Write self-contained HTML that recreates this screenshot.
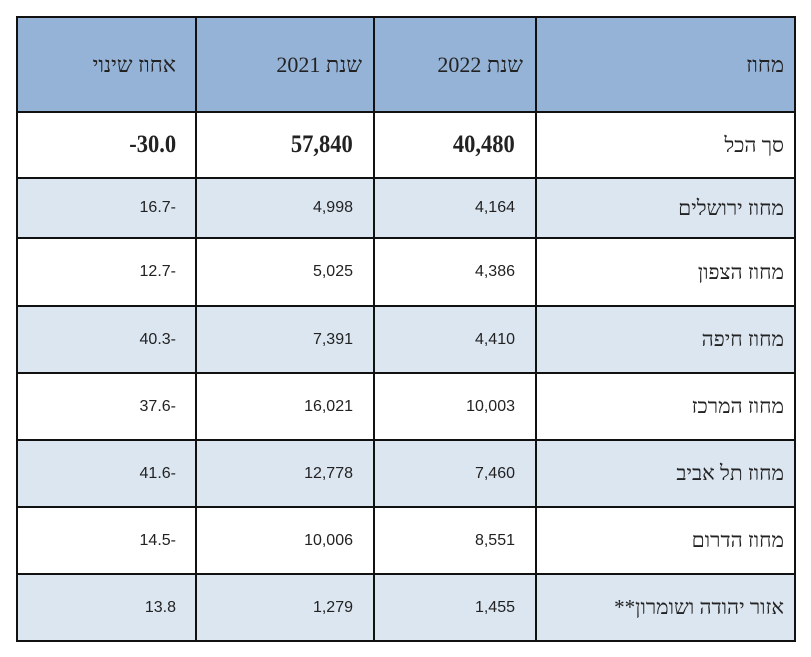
<!DOCTYPE html>
<html><head><meta charset="utf-8">
<style>
body{margin:0;width:811px;height:657px;background:#fff;position:relative;overflow:hidden}
.c{position:absolute;box-sizing:border-box;display:flex;align-items:center;justify-content:flex-end;white-space:nowrap}
.ln{position:absolute;background:#111}
.hd{font-family:"Liberation Serif",serif;font-size:22px;color:#222}
.tot{font-family:"Liberation Serif",serif;font-size:25px;font-weight:bold;color:#222;transform:scaleX(0.9);transform-origin:right center}
.num{font-family:"Liberation Sans",sans-serif;font-size:16px;color:#222}
.heb{font-family:"Liberation Serif","Noto Serif CJK SC",serif;font-size:21px;color:#222;direction:rtl}
</style></head><body>
<div id="tbl"></div>
<script>
const districts=["סך הכל","מחוז ירושלים","מחוז הצפון","מחוז חיפה","מחוז המרכז","מחוז תל אביב","מחוז הדרום","אזור יהודה ושומרון**"];
const y2022=["40,480","4,164","4,386","4,410","10,003","7,460","8,551","1,455"];
const y2021=["57,840","4,998","5,025","7,391","16,021","12,778","10,006","1,279"];
const pct=["-30.0","16.7-","12.7-","40.3-","37.6-","41.6-","14.5-","13.8"];
const headers=["מחוז","שנת 2022","שנת 2021","אחוז שינוי"];
const colX=[536,374,196,17]; const colR=[795,536,374,196];
const rowY=[17,112,178,238,306,373,440,507,574,641];
const pads=[[11,13,12,20],[11,21,21,20]];
const t=document.getElementById('tbl');
function cell(x,y,w,h,bg,txt,cls,pad,name){
  const d=document.createElement('div');
  d.className='c';
  d.style.cssText=`left:${x}px;top:${y}px;width:${w}px;height:${h}px;background:${bg};padding-right:${pad}px`;
  const s=document.createElement('span');s.className=cls;s.textContent=txt;
  if(cls!=='heb'&&cls!=='hd')s.style.direction='ltr';
  if(cls==='hd')s.style.direction='rtl';
  d.appendChild(s);
  
  
  t.appendChild(d);
}
for(let c=0;c<4;c++){
  cell(colX[c],rowY[0],colR[c]-colX[c],rowY[1]-rowY[0],'#95B3D7',headers[c],'hd',pads[0][c],'header-cell');
}
for(let r=0;r<districts.length;r++){
  const bg=r%2===1?'#DCE6F1':'#FFFFFF';
  const y=rowY[r+1],h=rowY[r+2]-rowY[r+1];
  const vals=[districts[r],y2022[r],y2021[r],pct[r]];
  for(let c=0;c<4;c++){
    const cls=c===0?'heb':(r===0?'tot':'num');
    cell(colX[c],y,colR[c]-colX[c],h,bg,vals[c],cls,c===0?11:pads[1][c],c===0?'district-name':'value-cell');
  }
}
function line(x,y,w,h){const l=document.createElement('div');l.className='ln';l.style.cssText=`left:${x}px;top:${y}px;width:${w}px;height:${h}px`;


t.appendChild(l);}
rowY.forEach(y=>line(17,y-1,779,2));
[17,196,374,536,795].forEach(x=>line(x-1,16,2,626));
</script>
</body></html>
